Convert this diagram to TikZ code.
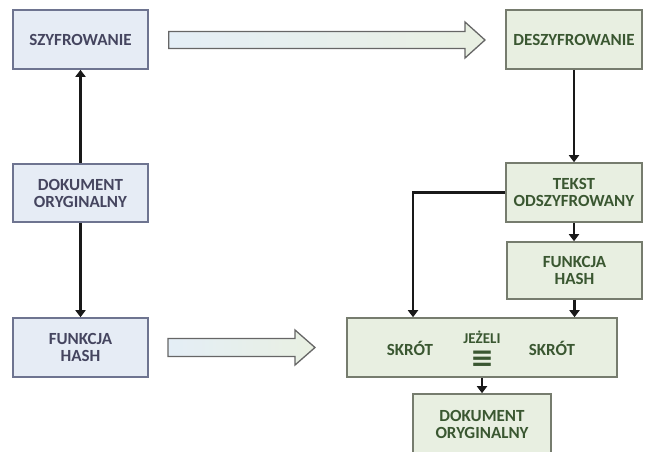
\documentclass[tikz,border=0pt]{standalone}
\usepackage{fontspec}
\setmainfont{Carlito}
\newfontfamily\symfont{DejaVu Sans}
\usetikzlibrary{arrows.meta,calc}
\definecolor{lfill}{HTML}{E6ECF5}
\definecolor{ldraw}{HTML}{6E7490}
\definecolor{ltext}{HTML}{45455F}
\definecolor{rfill}{HTML}{E8EFE1}
\definecolor{rdraw}{HTML}{767C6E}
\definecolor{rtext}{HTML}{3A5731}
\definecolor{arrL}{HTML}{E4EEF6}
\definecolor{arrR}{HTML}{E9F0E2}
\tikzset{
  lbox/.style={draw=ldraw, line width=1.6pt, fill=lfill, text=ltext, minimum width=135pt, minimum height=59pt, align=center, inner sep=0pt, font=\fontsize{17}{17}\selectfont\bfseries},
  rbox/.style={draw=rdraw, line width=1.6pt, fill=rfill, text=rtext, minimum width=135pt, minimum height=59pt, align=center, inner sep=0pt, font=\fontsize{17}{17}\selectfont\bfseries},
  conn/.style={draw=black!90, line width=2.3pt, -{Triangle[width=10pt,length=7pt]}},
  blockarrow/.style={draw=black!60, line width=1.3pt, left color=arrL, right color=arrR, line join=miter},
  lbl/.style={text=rtext, inner sep=0pt, font=\fontsize{17}{17}\selectfont\bfseries}
}
\begin{document}
\begin{tikzpicture}[x=1pt,y=-1pt]
\useasboundingbox (0,0) rectangle (645,451);
\begin{scope}
\clip (0,0) rectangle (645,451);
\node[lbox] (sz) at (80.5,39.5) {SZYFROWANIE};
\node[lbox, minimum height=58pt] (dok) at (80.5,193) {DOKUMENT\\ORYGINALNY};
\node[lbox] (fh) at (80.5,347.5) {FUNKCJA\\HASH};
\node[rbox, minimum width=136pt] (desz) at (574,39.5) {DESZYFROWANIE};
\node[rbox, minimum width=136pt] (tekst) at (574,192.5) {TEKST\\ODSZYFROWANY};
\node[rbox, minimum height=57pt] (fh2) at (574.5,270.5) {FUNKCJA\\HASH};
\node[rbox, minimum width=270pt] (skrot) at (482,347.5) {};
\node[rbox, minimum width=138pt, minimum height=64pt] (dok2) at (482,426) {};
\node[text=rtext, align=center, inner sep=0pt, font=\fontsize{17}{17}\selectfont\bfseries] (dok2t) at (482,424) {DOKUMENT\\ORYGINALNY};
\node[lbl] (s1) at (410,348) {SKRÓT};
\node[lbl] (s2) at (552,348) {SKRÓT};
\node[lbl, font=\fontsize{15}{15}\selectfont\bfseries] (jez) at (482,337) {JEŻELI};
\node[text=rtext, inner sep=0pt, font=\fontsize{28}{28}\selectfont\symfont\bfseries] (eq) at (482,359) {≡};
\end{scope}
% connectors
\draw[conn] (dok.north) -- (sz.south);
\draw[conn] (dok.south) -- (fh.north);
\draw[conn] (desz.south) -- (tekst.north);
\draw[conn] (tekst.south) -- (tekst.south |- fh2.north);
\draw[conn] (fh2.south) -- (fh2.south |- skrot.north);
\draw[conn] (tekst.west) -| (413,0 |- skrot.north);
\draw[conn] (skrot.south -| dok2.north) -- (dok2.north);
% block arrows
\draw[blockarrow] ($(sz.east)+(20,-8)$) -- (465,31.5) -- (465,22) -- (485,40) -- (465,58) -- (465,48.5) -- ($(sz.east)+(20,9)$) -- cycle;
\draw[blockarrow] (168,338.5) -- (295,338.5) -- (295,330) -- (315,347.5) -- (295,365) -- (295,356.5) -- (168,356.5) -- cycle;
\end{tikzpicture}
\end{document}
